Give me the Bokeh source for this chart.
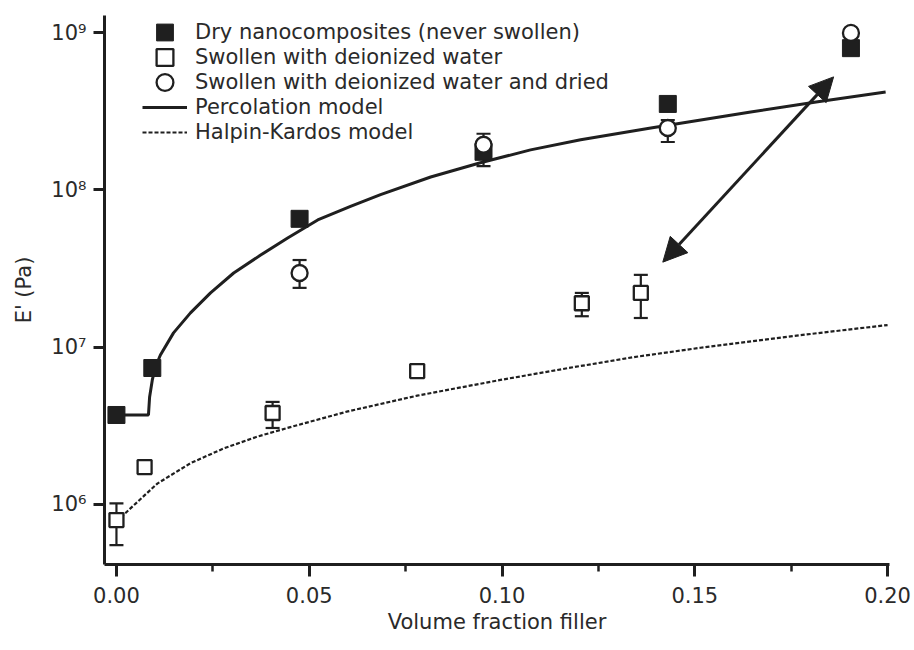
import math
from bokeh.plotting import figure
from bokeh.models import (Range1d, FixedTicker, NumeralTickFormatter, CustomJSTickFormatter,
                          Legend, LegendItem, Whisker, ColumnDataSource, Arrow, NormalHead, TeeHead)
from bokeh.embed import file_html
from bokeh.resources import INLINE

# ---------------- data ----------------
dry_x = [0.0, 0.0093, 0.0475, 0.0952, 0.143, 0.1905]
dry_y = [3.69e6, 7.35e6, 6.55e7, 1.75e8, 3.53e8, 8.0e8]

wet_x = [0.0, 0.0073, 0.0405, 0.078, 0.1207, 0.136]
wet_y = [7.9e5, 1.72e6, 3.8e6, 7.03e6, 1.9e7, 2.21e7]
wet_lo = [5.48e5, 1.6e6, 3.05e6, None, 1.57e7, 1.53e7]
wet_hi = [1.01e6, 1.85e6, 4.47e6, None, 2.21e7, 2.88e7]

dried_x = [0.0475, 0.0952, 0.143, 0.1905]
dried_y = [2.96e7, 1.94e8, 2.48e8, 1.0e9]
dried_lo = [2.38e7, 1.42e8, 2.02e8, 9.4e8]
dried_hi = [3.58e7, 2.28e8, 2.79e8, 1.06e9]

perc_x = [0.0, 0.0083, 0.0086, 0.0093, 0.0101, 0.0114, 0.0148, 0.0192, 0.0244, 0.0304,
          0.0374, 0.0444, 0.0522, 0.0607, 0.0685, 0.0815, 0.0944, 0.1074, 0.1204, 0.1386,
          0.1645, 0.1819, 0.1995]
perc_y = [3.69e6, 3.69e6, 4.81e6, 6.17e6, 7.46e6, 8.9e6, 1.23e7, 1.65e7, 2.21e7, 2.96e7,
          3.85e7, 4.94e7, 6.44e7, 7.85e7, 9.33e7, 1.21e8, 1.49e8, 1.80e8, 2.09e8, 2.48e8,
          3.14e8, 3.64e8, 4.21e8]

hk_x = [0.0, 0.0044, 0.0106, 0.0192, 0.0278, 0.0366, 0.0451, 0.06, 0.078, 0.0996,
        0.117, 0.134, 0.1515, 0.1755, 0.2]
hk_y = [7.76e5, 9.77e5, 1.35e6, 1.82e6, 2.26e6, 2.69e6, 3.09e6, 3.89e6, 4.9e6, 6.17e6,
        7.33e6, 8.61e6, 9.89e6, 1.175e7, 1.38e7]

arrow_x = [0.1417, 0.186]
arrow_y = [3.47e7, 5.25e8]

x_ticks = [0.0, 0.05, 0.10, 0.15, 0.20]
x_minor = [0.025, 0.075, 0.125, 0.175]
y_ticks = [1e6, 1e7, 1e8, 1e9]

labels = ["Dry nanocomposites (never swollen)",
          "Swollen with deionized water",
          "Swollen with deionized water and dried",
          "Percolation model",
          "Halpin-Kardos model"]
x_label = "Volume fraction filler"
y_label = "E' (Pa)"

# ---------------- styling ----------------
INK = "#1f1f1f"
TXT = "#2a2a2a"
FONT = "DejaVu Sans"

p = figure(width=914, height=650,
           x_range=Range1d(-0.0031, 0.2005),
           y_range=Range1d(10 ** 5.615, 10 ** 9.111),
           y_axis_type="log",
           output_backend="svg", toolbar_location=None,
           min_border_left=104, min_border_right=25,
           min_border_top=15, min_border_bottom=86)
p.xgrid.visible = False
p.ygrid.visible = False
p.outline_line_color = None
p.background_fill_color = "white"
p.border_fill_color = "white"

# axes
for ax in (p.xaxis[0], p.yaxis[0]):
    ax.axis_line_width = 3
    ax.axis_line_color = INK
    ax.major_tick_line_width = 3
    ax.major_tick_line_color = INK
    ax.major_tick_in = 0
    ax.major_label_text_font = FONT
    ax.major_label_text_font_size = "21px"
    ax.major_label_text_color = TXT
    ax.axis_label_text_font = FONT
    ax.axis_label_text_font_size = "21px"
    ax.axis_label_text_font_style = "normal"
    ax.axis_label_text_color = TXT

xa = p.xaxis[0]
xa.ticker = FixedTicker(ticks=x_ticks, minor_ticks=x_minor)
xa.formatter = NumeralTickFormatter(format="0.00")
xa.major_tick_out = 12
xa.minor_tick_in = 0
xa.minor_tick_out = 7
xa.minor_tick_line_width = 2.5
xa.minor_tick_line_color = INK
xa.major_label_standoff = 10
xa.axis_label = x_label
xa.axis_label_standoff = 4

ya = p.yaxis[0]
ya.ticker = FixedTicker(ticks=y_ticks, minor_ticks=[])
ya.minor_tick_line_color = None
ya.major_tick_out = 11
ya.major_label_standoff = 7
ya.formatter = CustomJSTickFormatter(code="""
const sup = ['\\u2070','\\u00b9','\\u00b2','\\u00b3','\\u2074','\\u2075','\\u2076','\\u2077','\\u2078','\\u2079'];
const e = Math.round(Math.log10(tick));
return '10' + String(e).split('').map(c => sup[parseInt(c)]).join('');
""")
ya.axis_label = y_label
ya.axis_label_standoff = 12

# model curves
r_perc = p.line(perc_x, perc_y, line_color=INK, line_width=3)
r_hk = p.line(hk_x, hk_y, line_color=INK, line_width=2.2, line_dash="4 2")

# error bars (under the markers)
def whiskers(xs, lo, hi):
    xx = [x for x, l in zip(xs, lo) if l is not None]
    ll = [l for l in lo if l is not None]
    hh = [h for h in hi if h is not None]
    src = ColumnDataSource(dict(base=xx, lower=ll, upper=hh))
    w = Whisker(source=src, base="base", lower="lower", upper="upper", dimension="height",
                line_color=INK, line_width=2.2, level="underlay",
                upper_head=TeeHead(size=14, line_color=INK, line_width=2.2),
                lower_head=TeeHead(size=14, line_color=INK, line_width=2.2))
    p.add_layout(w)

whiskers(wet_x, wet_lo, wet_hi)
whiskers(dried_x, dried_lo, dried_hi)

# markers
r_dry = p.scatter(dry_x, dry_y, marker="square", size=17, fill_color=INK, line_color=INK, line_width=1)
r_wet = p.scatter(wet_x, wet_y, marker="square", size=14, fill_color="white", line_color=INK, line_width=2.3)
r_dried = p.scatter(dried_x, dried_y, marker="circle", size=16, fill_color="white", line_color=INK, line_width=2.3)

# arrow
p.add_layout(Arrow(x_start=arrow_x[0], y_start=arrow_y[0], x_end=arrow_x[1], y_end=arrow_y[1],
                   line_color=INK, line_width=3,
                   start=NormalHead(size=24, fill_color=INK, line_color=INK, line_width=1),
                   end=NormalHead(size=24, fill_color=INK, line_color=INK, line_width=1)))

# legend: one single-row legend per entry so that rows sit 25 px apart
renderers = [r_dry, r_wet, r_dried, r_perc, r_hk]
row_h = 42
frame_h = 650 - 15 - 86
row_centres = [32, 57, 82, 107, 132]
for lab, rend, cy in zip(labels, renderers, row_centres):
    top = cy - row_h / 2 - 15
    lg = Legend(items=[LegendItem(label=lab, renderers=[rend])],
                location=(38, frame_h - top - row_h), orientation="vertical",
                glyph_width=45, glyph_height=row_h, label_height=row_h, spacing=0,
                padding=0, margin=0, label_standoff=8,
                label_text_font=FONT, label_text_font_size="21px", label_text_color=TXT,
                background_fill_alpha=0, border_line_color=None)
    p.add_layout(lg, "center")

open("out.html", "w", encoding="utf-8").write(file_html(p, INLINE))
